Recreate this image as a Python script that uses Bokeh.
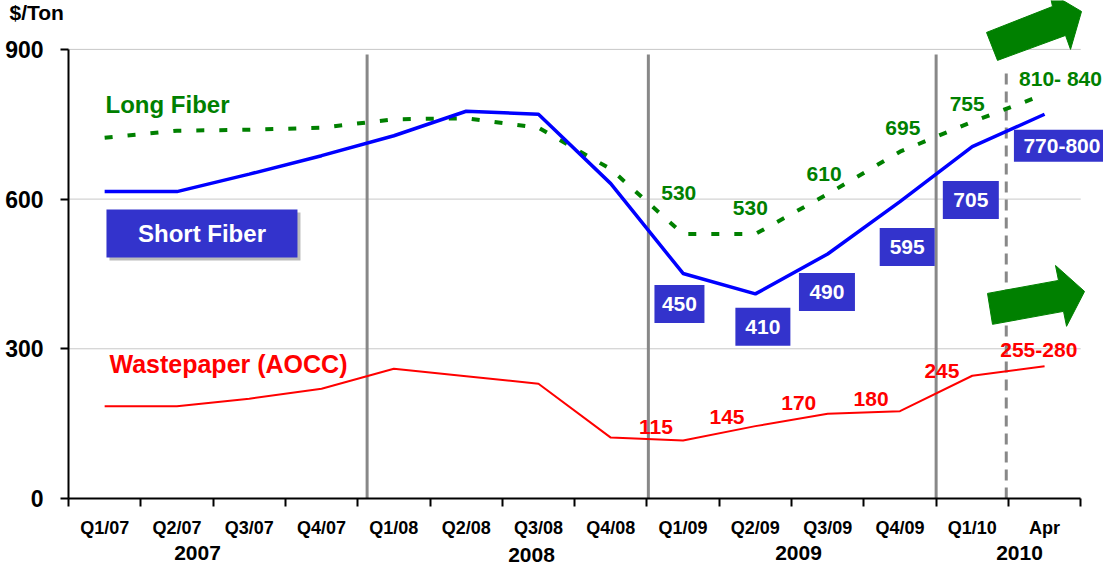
from bokeh.plotting import figure
from bokeh.models import Range1d, FixedTicker
from bokeh.core.properties import value
from bokeh.embed import file_html
from bokeh.resources import INLINE

FONT = "Liberation Sans"

# ---------------- data ----------------
quarters = ["Q1/07", "Q2/07", "Q3/07", "Q4/07", "Q1/08", "Q2/08", "Q3/08",
            "Q4/08", "Q1/09", "Q2/09", "Q3/09", "Q4/09", "Q1/10", "Apr"]
short_fiber = [615, 615, 650, 687, 727, 776, 770, 631, 451, 410, 490, 595, 705, 770]
long_fiber = [723, 737, 739, 743, 760, 762, 743, 660, 530, 530, 610, 695, 755, 810]
wastepaper = [185, 185, 200, 220, 260, 245, 230, 122, 116, 145, 170, 175, 246, 265]

years = ["2007", "2008", "2009", "2010"]
year_x = [1.784, 6.404, 10.097, 13.153]
year_y = [-109, -113, -109, -109]

# boxed labels for Short Fiber
sf_labels = ["450", "410", "490", "595", "705", "770-800"]
sf_lab_x = [8.45, 9.604, 10.49, 11.60, 12.48, 13.74]
sf_lab_y = [390, 344, 414, 504, 598, 707]
sf_box_w = [50, 55, 56, 55, 56, 96]
sf_box_h = [38, 38, 38, 38, 38, 32]

# green labels for Long Fiber
lf_labels = ["530", "530", "610", "695", "755", "810- 840"]
lf_lab_x = [8.44, 9.43, 10.45, 11.54, 12.43, 13.72]
lf_lab_y = [613, 583, 651, 742, 790, 842]

# red labels for Wastepaper
wp_labels = ["115", "145", "170", "180", "245", "255-280"]
wp_lab_x = [8.126, 9.108, 10.10, 11.10, 12.08, 13.42]
wp_lab_y = [144, 164, 192, 200, 255, 297]

# separators between years
sep_x = [4.13, 8.02, 12.0]
sep_top = 890
dash_x = 12.97
dash_top = 864

y_ticks = [0, 300, 600, 900]
grid_y = [300, 600, 900]

# decorative trend arrows
arrow_top_x = [12.849, 12.697, 13.610, 13.568, 14.011, 13.859, 13.790]
arrow_top_y = [878, 934, 986, 1014, 976, 900, 928]
arrow_bot_x = [12.780, 12.711, 13.693, 13.651, 14.053, 13.804, 13.762]
arrow_bot_y = [349, 411, 437, 467, 415, 345, 375]

GREEN = "#008000"
BLUE = "#0000FF"
RED = "#FF0000"
BOX = "#3333CC"
GRAY = "#888888"

# ---------------- figure ----------------
p = figure(width=1103, height=565, output_backend="svg", toolbar_location=None,
           x_range=Range1d(-0.9405, 14.315), y_range=Range1d(-134.3, 998),
           min_border_left=0, min_border_right=0, min_border_top=0,
           min_border_bottom=0)
p.outline_line_color = None
p.xgrid.visible = False
p.ygrid.visible = False
p.background_fill_color = "white"

n = len(quarters)
centers = [i + 0.5 for i in range(n)]

# gridlines
p.segment(x0=[0] * len(grid_y), x1=[n] * len(grid_y), y0=grid_y, y1=grid_y,
          line_color="#C8C8C8", line_width=1)

# year separators
p.segment(x0=sep_x, x1=sep_x, y0=[0] * len(sep_x), y1=[sep_top] * len(sep_x),
          line_color=GRAY, line_width=3)
p.segment(x0=[dash_x], x1=[dash_x], y0=[0], y1=[dash_top],
          line_color=GRAY, line_width=3, line_dash="11 7")

# series
p.line(centers, long_fiber, line_color=GREEN, line_width=4, line_dash="8 15")
p.line(centers, short_fiber, line_color=BLUE, line_width=3.5)
p.line(centers, wastepaper, line_color=RED, line_width=2)

# arrows
p.patch(arrow_top_x, arrow_top_y, fill_color=GREEN, line_color=GREEN)
p.patch(arrow_bot_x, arrow_bot_y, fill_color=GREEN, line_color=GREEN)

# short fiber boxed labels
p.rect(x=sf_lab_x, y=sf_lab_y, width=sf_box_w, height=sf_box_h,
       width_units="screen", height_units="screen", fill_color=BOX, line_color=None)
p.text(x=sf_lab_x, y=sf_lab_y, text=sf_labels, text_color="white",
       text_font=value(FONT), text_font_style="bold", text_font_size="21px",
       text_align="center", text_baseline="middle")

# long fiber labels
p.text(x=lf_lab_x, y=lf_lab_y, text=lf_labels, text_color=GREEN,
       text_font=value(FONT), text_font_style="bold", text_font_size="21px",
       text_align="center", text_baseline="middle")

# wastepaper labels
p.text(x=wp_lab_x, y=wp_lab_y, text=wp_labels, text_color=RED,
       text_font=value(FONT), text_font_style="bold", text_font_size="21px",
       text_align="center", text_baseline="middle")

# series name labels
p.text(x=[0.512], y=[790], text=["Long Fiber"], text_color=GREEN,
       text_font=value(FONT), text_font_style="bold", text_font_size="24px",
       text_align="left", text_baseline="middle")
p.text(x=[0.567], y=[269], text=["Wastepaper (AOCC)"], text_color=RED,
       text_font=value(FONT), text_font_style="bold", text_font_size="25px",
       text_align="left", text_baseline="middle")
# short fiber name box with shadow
p.rect(x=[1.846 + 0.0415], y=[531 - 6], width=[191], height=[48],
       width_units="screen", height_units="screen", fill_color="#BBBBBB", line_color=None)
p.rect(x=[1.846], y=[531], width=[191], height=[48],
       width_units="screen", height_units="screen", fill_color=BOX, line_color=None)
p.text(x=[1.846], y=[531], text=["Short Fiber"], text_color="white",
       text_font=value(FONT), text_font_style="bold", text_font_size="24px",
       text_align="center", text_baseline="middle")

# year labels and unit label
p.text(x=year_x, y=year_y, text=years, text_color="black",
       text_font=value(FONT), text_font_style="bold", text_font_size="21px",
       text_align="center", text_baseline="middle")
p.text(x=[-0.816], y=[974], text=["$/Ton"], text_color="black",
       text_font=value(FONT), text_font_style="bold", text_font_size="21px",
       text_align="left", text_baseline="middle")

# axes (placed at the data origin)
xa = p.xaxis[0]
xa.fixed_location = 0
xa.ticker = FixedTicker(ticks=centers, minor_ticks=list(range(n + 1)))
xa.major_label_overrides = {c: q for c, q in zip(centers, quarters)}
xa.major_tick_line_color = None
xa.minor_tick_line_color = "black"
xa.minor_tick_line_width = 2
xa.minor_tick_out = 8
xa.minor_tick_in = 0
xa.axis_line_color = "black"
xa.axis_line_width = 2
xa.bounds = (0, n)
xa.major_label_text_font = FONT
xa.major_label_text_font_style = "bold"
xa.major_label_text_font_size = "18px"
xa.major_label_text_color = "black"
xa.major_label_standoff = 12

ya = p.yaxis[0]
ya.fixed_location = 0
ya.ticker = FixedTicker(ticks=y_ticks, minor_ticks=[])
ya.bounds = (0, 900)
ya.axis_line_color = "black"
ya.axis_line_width = 2
ya.major_tick_line_color = "black"
ya.major_tick_line_width = 2
ya.major_tick_out = 8
ya.major_tick_in = 0
ya.minor_tick_line_color = None
ya.major_label_text_font = FONT
ya.major_label_text_font_style = "bold"
ya.major_label_text_font_size = "23px"
ya.major_label_text_color = "black"
ya.major_label_standoff = 17

open("out.html", "w").write(file_html(p, INLINE))
